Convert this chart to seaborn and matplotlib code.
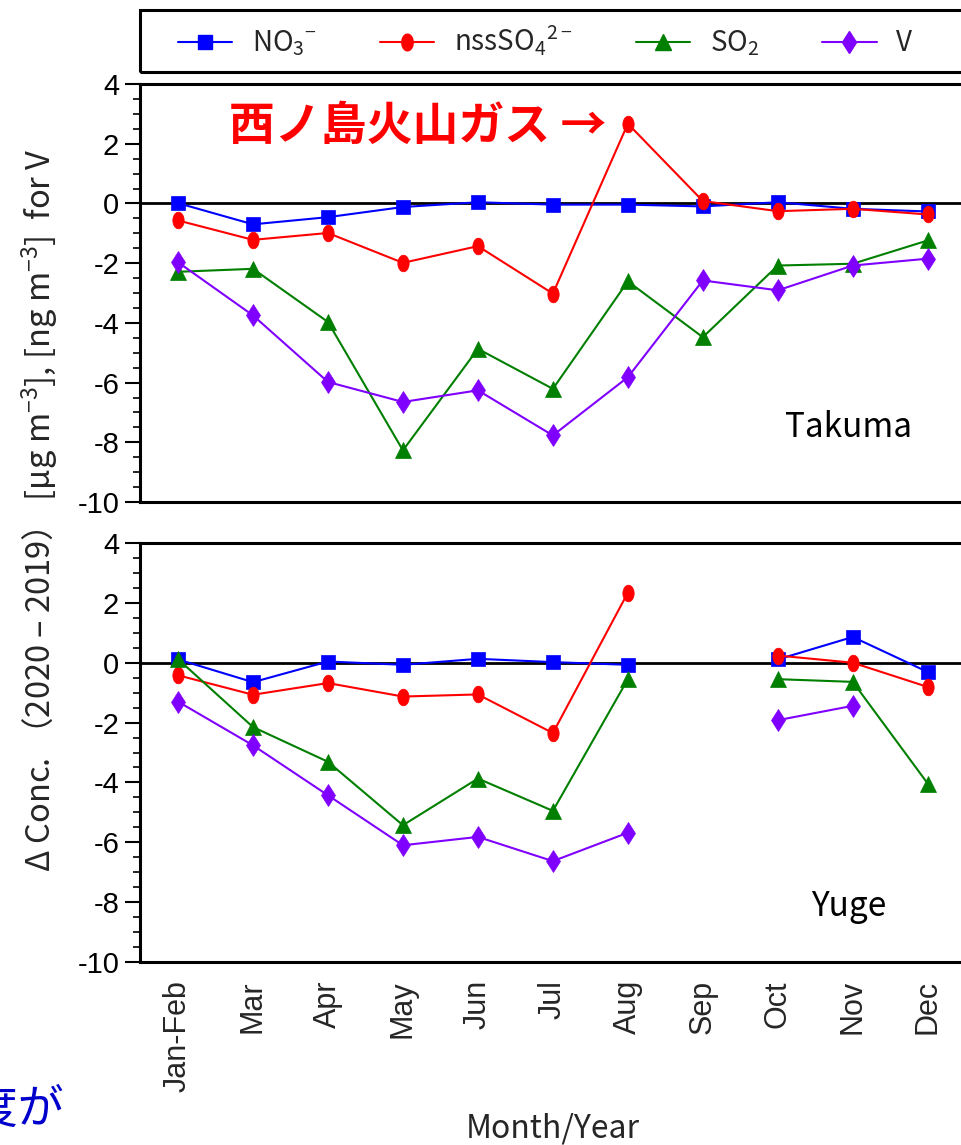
import numpy as np
import pandas as pd
import matplotlib
matplotlib.use("Agg")
import matplotlib.pyplot as plt
from matplotlib.lines import Line2D
from matplotlib.patches import Rectangle
from matplotlib.ticker import MultipleLocator
import seaborn as sns

# ---- data -------------------------------------------------------------
months = ["Jan-Feb", "Mar", "Apr", "May", "Jun", "Jul", "Aug", "Sep", "Oct", "Nov", "Dec"]
series_names = ["NO3", "nssSO4", "SO2", "V"]

takuma_no3 = [0.01, -0.70, -0.46, -0.12, 0.04, -0.04, -0.04, -0.10, 0.04, -0.18, -0.27]
takuma_nsso4 = [-0.57, -1.22, -0.99, -1.99, -1.43, -3.02, 2.67, 0.08, -0.26, -0.18, -0.37]
takuma_so2 = [-2.29, -2.19, -3.97, -8.27, -4.87, -6.21, -2.61, -4.48, -2.08, -2.02, -1.24]
takuma_v = [-1.97, -3.75, -5.98, -6.65, -6.26, -7.77, -5.82, -2.58, -2.91, -2.08, -1.85]

yuge_no3 = [0.11, -0.65, 0.04, -0.07, 0.13, 0.02, -0.07, np.nan, 0.11, 0.86, -0.31]
yuge_nsso4 = [-0.42, -1.07, -0.68, -1.13, -1.06, -2.35, 2.34, np.nan, 0.24, 0.00, -0.81]
yuge_so2 = [0.12, -2.15, -3.31, -5.43, -3.87, -4.95, -0.55, np.nan, -0.55, -0.64, -4.04]
yuge_v = [-1.30, -2.76, -4.43, -6.10, -5.82, -6.63, -5.68, np.nan, -1.92, -1.44, np.nan]

legend_labels = ["NO$_3$$^{-}$", "nssSO$_4$$^{2-}$", "SO$_2$", "V"]
station_names = ["Takuma", "Yuge"]
annotation_text = "西ノ島火山ガス →"
ylabel_text = "Δ Conc. （2020 – 2019） [μg m$^{-3}$], [ng m$^{-3}$]  for V"
xlabel_text = "Month/Year"
side_text = "濃度が"

# ---- style ------------------------------------------------------------
sns.set_style("ticks")
plt.rcParams["font.family"] = ["Liberation Sans", "DejaVu Sans"]
plt.rcParams["axes.unicode_minus"] = False
plt.rcParams["mathtext.fontset"] = "custom"
plt.rcParams["mathtext.rm"] = "Noto Sans CJK JP"
plt.rcParams["mathtext.it"] = "Noto Sans CJK JP"
CJK = ["Noto Sans CJK JP", "DejaVu Sans"]

t = np.linspace(0, 2 * np.pi, 60)
ellipse = np.column_stack([0.68 * np.cos(t), np.sin(t)])

palette = {"NO3": "#0000FF", "nssSO4": "#FF0000", "SO2": "#007F00", "V": "#8000FF"}
markers = {"NO3": "s", "nssSO4": ellipse, "SO2": "^", "V": "d"}
msizes = {"NO3": 10.5, "nssSO4": 12, "SO2": 11, "V": 11.5}


def long_frame(values):
    rows = []
    for name, vals in zip(series_names, values):
        seg = 0
        for i, v in enumerate(vals):
            if np.isnan(v):
                seg += 1
                continue
            rows.append({"pos": i, "value": v, "series": name, "segment": f"{name}-{seg}"})
    return pd.DataFrame(rows)


W, H = 961, 1145
fig = plt.figure(figsize=(W / 100, H / 100), dpi=100)
left = 140 / W
width = (972 - 140) / W
ax_top = fig.add_axes([left, 1 - 502 / H, width, (502 - 84) / H])
ax_bot = fig.add_axes([left, 1 - 962 / H, width, (962 - 543) / H])

datasets = [
    [takuma_no3, takuma_nsso4, takuma_so2, takuma_v],
    [yuge_no3, yuge_nsso4, yuge_so2, yuge_v],
]

for ax, data, station in zip([ax_top, ax_bot], datasets, station_names):
    df = long_frame(data)
    ax.axhline(0, color="black", lw=2.0, zorder=1)
    for name in series_names:
        sub = df[df["series"] == name]
        sns.lineplot(data=sub, x="pos", y="value", units="segment", estimator=None,
                     color=palette[name], marker=markers[name], markersize=msizes[name],
                     linewidth=1.5, ax=ax, legend=False, zorder=3)
    for ln in ax.lines[1:]:
        ln.set_markeredgecolor(ln.get_color())
        ln.set_markerfacecolor(ln.get_color())
        ln.set_markeredgewidth(0.5)

    ax.set_xlim(-0.507, 10.59)
    ax.set_ylim(-10, 4)
    ax.yaxis.set_major_locator(MultipleLocator(2))
    ax.yaxis.set_minor_locator(MultipleLocator(0.5))
    ax.tick_params(axis="y", which="major", direction="out", length=11, width=1.5,
                   labelsize=21, pad=4, color="black", labelcolor="black")
    ax.tick_params(axis="y", which="minor", direction="out", length=5, width=1.2, color="black")
    ax.set_xticks(np.arange(len(months)))
    ax.tick_params(axis="x", length=0)
    ax.set_xlabel("")
    ax.set_ylabel("")
    for side in ["left", "top", "bottom", "right"]:
        ax.spines[side].set_linewidth(2.2)
        ax.spines[side].set_color("black")
    ax.text(8.94, -7.5 if station == "Takuma" else -8.15, station, ha="center", va="center",
            fontsize=24, family=CJK, color="black")

ax_top.set_xticklabels([])
ax_bot.set_xticklabels(months, rotation=90, fontsize=22, va="top", ha="center")
ax_bot.tick_params(axis="x", pad=13)

ax_top.text(5.72, 2.55, annotation_text, ha="right", va="center", fontsize=33,
            fontweight="bold", color="#FF0000", family=CJK)

# legend across the top, inside a box that runs off the right edge
fig.patches.append(Rectangle((left, 1 - 72 / H), 835 / W, 62 / H, transform=fig.transFigure,
                             fill=False, edgecolor="black", linewidth=2.2, zorder=5))
handles = [Line2D([], [], color=palette[n], marker=markers[n], markersize=msizes[n],
                  markeredgecolor=palette[n], linewidth=1.5) for n in series_names]
leg = fig.legend(handles, legend_labels, loc="center",
                 bbox_to_anchor=(178 / W, 1 - 72 / H, (912 - 178) / W, 62 / H), mode="expand",
                 ncol=4, frameon=False, borderaxespad=0, borderpad=0,
                 handlelength=1.95, handletextpad=0.7,
                 prop={"family": CJK, "size": 20})

fig.text(40 / W, 1 - 510 / H, ylabel_text, rotation=90, ha="center", va="center",
         fontsize=23.5, family=CJK)
fig.text(553 / W, 1 - 1128 / H, xlabel_text, ha="center", va="center",
         fontsize=23, family=CJK)
fig.text(64 / W, 1 - 1110 / H, side_text, ha="right", va="center", fontsize=33,
         color="#0000CC", family=CJK)

fig.savefig("out.png", dpi=100)
